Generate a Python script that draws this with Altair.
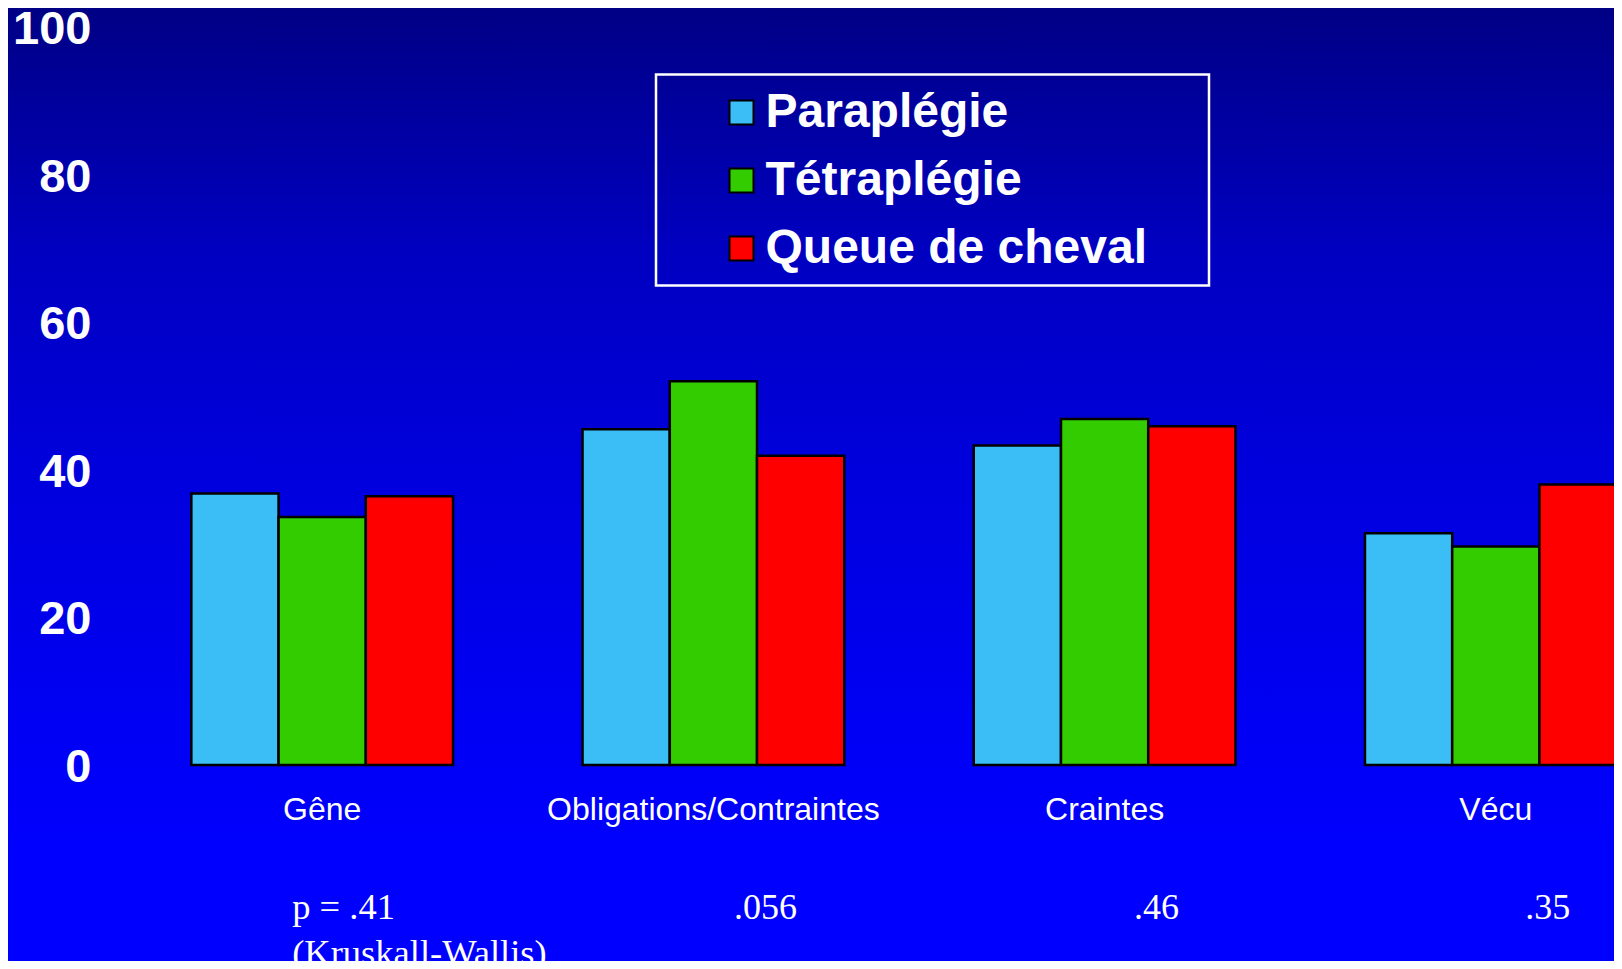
import altair as alt
import pandas as pd

categories = ["Gêne", "Obligations/Contraintes", "Craintes", "Vécu"]
series = ["Paraplégie", "Tétraplégie", "Queue de cheval"]
paraplegie = [36.8, 45.5, 43.3, 31.4]
tetraplegie = [33.6, 52.0, 46.9, 29.6]
queue = [36.4, 41.9, 45.9, 38.0]
p_values = [".41", ".056", ".46", ".35"]
p_first = ["p = .41", "(Kruskall-Wallis)"]
y_ticks = [0, 20, 40, 60, 80, 100]
colors = ["#3BBEF5", "#33CC00", "#FF0000"]

rows = []
for s, vals in zip(series, [paraplegie, tetraplegie, queue]):
    for c, v in zip(categories, vals):
        rows.append({"cat": c, "serie": s, "val": v})
df = pd.DataFrame(rows)
pdf = pd.DataFrame({"cat": categories[1:], "p": p_values[1:]})
p1 = pd.DataFrame({"cat": [categories[0]], "p": [p_first]})

W, H = 1506, 738

xscale = alt.Scale(domain=categories, range=[0, 1602], paddingInner=0.331, paddingOuter=0.213)
yscale = alt.Scale(domain=[0, 100], nice=False)

one = pd.DataFrame({"a": [0]})

bg = alt.Chart(one).mark_rect(
    color=alt.Gradient(
        gradient="linear",
        stops=[
            alt.GradientStop(color="#000085", offset=0),
            alt.GradientStop(color="#0000C0", offset=0.25),
            alt.GradientStop(color="#0000DE", offset=0.5),
            alt.GradientStop(color="#0000F4", offset=0.75),
            alt.GradientStop(color="#0000FF", offset=0.9),
            alt.GradientStop(color="#0000FF", offset=1),
        ],
        x1=0, x2=0, y1=0, y2=1,
    )
).encode(x=alt.value(-100), x2=alt.value(W), y=alt.value(-19), y2=alt.value(H + 196))

# frame around the legend
frame = alt.Chart(one).mark_rect(
    fill=None, filled=False, stroke="white", strokeWidth=2.5
).encode(x=alt.value(548), x2=alt.value(1101), y=alt.value(47.5), y2=alt.value(258.5))

bars = alt.Chart(df).mark_bar(stroke="black", strokeWidth=2.5).encode(
    x=alt.X("cat:N", scale=xscale, sort=categories,
            axis=alt.Axis(title=None, domain=False, ticks=False, labelAngle=0, zindex=1,
                          labelFont="Liberation Sans", labelFontSize=32,
                          labelColor="white", labelPadding=29, labelLimit=1000)),
    xOffset=alt.XOffset("serie:N", sort=series,
                        scale=alt.Scale(domain=series, paddingInner=0, paddingOuter=0)),
    y=alt.Y("val:Q", scale=yscale,
            axis=alt.Axis(title=None, values=y_ticks, domain=False, ticks=False, grid=False,
                          zindex=1, labelOffset=2.5,
                          labelFont="Liberation Sans", labelFontWeight="bold",
                          labelFontSize=47, labelColor="white", labelPadding=17)),
    color=alt.Color("serie:N", sort=series,
                    scale=alt.Scale(domain=series, range=colors),
                    legend=alt.Legend(title=None, orient="none", legendX=548, legendY=47.5,
                                      symbolType="square", symbolSize=576,
                                      symbolStrokeColor="black", symbolStrokeWidth=2,
                                      symbolOpacity=1, symbolOffset=47.5,
                                      labelOffset=0,
                                      labelFont="Liberation Sans", labelFontWeight="bold",
                                      labelFontSize=48, labelColor="white", labelLimit=1000,
                                      rowPadding=20, padding=14)),
)

ptext = alt.Chart(pdf).mark_text(
    font="Liberation Serif", fontSize=36, color="white", align="center",
    baseline="middle", dx=52, dy=143,
).encode(x=alt.X("cat:N", scale=xscale, sort=categories),
         y=alt.Y("zero:Q", scale=yscale), text="p:N").transform_calculate(zero="0")

ptext1 = alt.Chart(p1).mark_text(
    font="Liberation Serif", fontSize=36.5, color="white", align="left",
    baseline="middle", dx=-30, dy=143, lineHeight=46,
).encode(x=alt.X("cat:N", scale=xscale, sort=categories),
         y=alt.Y("zero:Q", scale=yscale), text="p:N").transform_calculate(zero="0")

chart = alt.layer(bg, frame, bars, ptext, ptext1).properties(
    width=W, height=H,
    autosize=alt.AutoSizeParams(type="none"),
    padding={"left": 100, "top": 19, "right": 0, "bottom": 196},
    background="#0000FF",
).configure_view(stroke=None).configure_legend(
    strokeColor="transparent", fillColor="transparent"
)

chart.save("out.html", embed_options={"renderer": "svg", "actions": False})
